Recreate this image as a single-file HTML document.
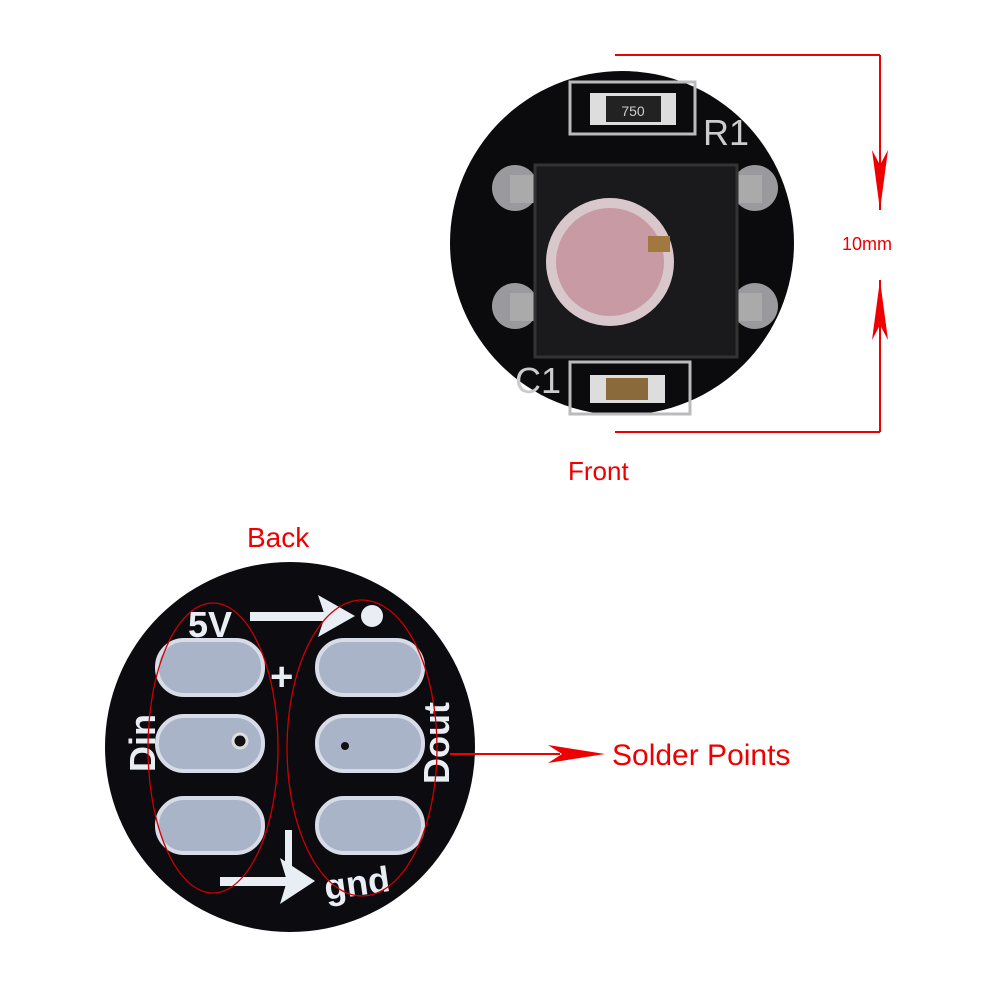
<!DOCTYPE html><html><head><style>body{margin:0;background:#fff}svg{display:block}</style></head><body>
<svg width="1000" height="1000" viewBox="0 0 1000 1000" xmlns="http://www.w3.org/2000/svg" font-family="Liberation Sans, sans-serif">
<circle cx="622" cy="243" r="172" fill="#0b0b0d"/>
<rect x="570" y="82" width="125" height="52" fill="none" stroke="#bbb" stroke-width="3"/>
<rect x="590" y="93" width="86" height="32" fill="#ddd"/><rect x="606" y="96" width="55" height="26" fill="#222"/>
<text x="633" y="116" fill="#ccc" font-size="14" text-anchor="middle">750</text>
<text x="703" y="145" fill="#ccc" font-size="36">R1</text>
<circle cx="515" cy="188" r="23" fill="#9a9a9e"/><circle cx="515" cy="306" r="23" fill="#9a9a9e"/>
<circle cx="755" cy="188" r="23" fill="#9a9a9e"/><circle cx="755" cy="306" r="23" fill="#9a9a9e"/>
<rect x="510" y="175" width="40" height="28" fill="#aaa"/><rect x="510" y="293" width="40" height="28" fill="#aaa"/>
<rect x="722" y="175" width="40" height="28" fill="#aaa"/><rect x="722" y="293" width="40" height="28" fill="#aaa"/>
<rect x="535" y="165" width="202" height="192" fill="#1a1a1c" stroke="#333" stroke-width="3"/>
<circle cx="610" cy="262" r="64" fill="#d8c8cc"/><circle cx="610" cy="262" r="54" fill="#c89aa4"/>
<rect x="648" y="236" width="22" height="16" fill="#a07840"/>
<text x="515" y="393" fill="#ccc" font-size="36">C1</text>
<rect x="570" y="362" width="120" height="52" fill="none" stroke="#bbb" stroke-width="3"/>
<rect x="590" y="375" width="75" height="28" fill="#ddd"/><rect x="606" y="378" width="42" height="22" fill="#8a6a3a"/>
<g stroke="#e00" stroke-width="2" fill="none"><line x1="615" y1="55" x2="880" y2="55"/><line x1="880" y1="55" x2="880" y2="210"/><line x1="880" y1="280" x2="880" y2="432"/><line x1="615" y1="432" x2="880" y2="432"/></g>
<polygon points="880,210 872,150 880,165 888,150" fill="#e00"/><polygon points="880,280 872,340 880,325 888,340" fill="#e00"/>
<text x="842" y="250" fill="#e00" font-size="18">10mm</text>
<text x="568" y="480" fill="#e00" font-size="26">Front</text>
<text x="247" y="547" fill="#e00" font-size="28">Back</text>
<circle cx="290" cy="747" r="185" fill="#0b0b10"/>
<g fill="#aab4c8" stroke="#d8dce6" stroke-width="4">
<rect x="157" y="640" width="106" height="55" rx="27"/><rect x="157" y="716" width="106" height="55" rx="27"/><rect x="157" y="798" width="106" height="55" rx="27"/>
<rect x="317" y="640" width="106" height="55" rx="27"/><rect x="317" y="716" width="106" height="55" rx="27"/><rect x="317" y="798" width="106" height="55" rx="27"/>
</g>
<circle cx="240" cy="741" r="7" fill="#111" stroke="#ddd" stroke-width="3"/><circle cx="345" cy="746" r="4" fill="#111"/>
<g fill="#e8eef4" font-weight="bold">
<text x="188" y="637" font-size="36">5V</text>
<rect x="250" y="612" width="80" height="9"/><polygon points="318,595 355,616 318,637 325,616"/>
<circle cx="372" cy="616" r="11"/>
<text x="270" y="690" font-size="40">+</text>
<text x="143" y="743" font-size="36" transform="rotate(-90 143 743)" text-anchor="middle" dy="12">Din</text>
<text x="437" y="743" font-size="36" transform="rotate(-90 437 743)" text-anchor="middle" dy="12">Dout</text>
<rect x="220" y="877" width="85" height="9"/><polygon points="280,858 315,881 280,904 287,881"/>
<rect x="285" y="830" width="7" height="45"/>
<text x="326" y="900" font-size="36" transform="rotate(-8 326 900)">gnd</text>
</g>
<g stroke="#c00" stroke-width="1.3" fill="none"><ellipse cx="213" cy="748" rx="65" ry="145"/><ellipse cx="362" cy="748" rx="75" ry="148"/></g>
<line x1="450" y1="754" x2="560" y2="754" stroke="#e00" stroke-width="2"/>
<polygon points="605,754 548,745 562,754 548,763" fill="#e00"/>
<text x="612" y="765" fill="#e00" font-size="30">Solder  Points</text>
</svg></body></html>
